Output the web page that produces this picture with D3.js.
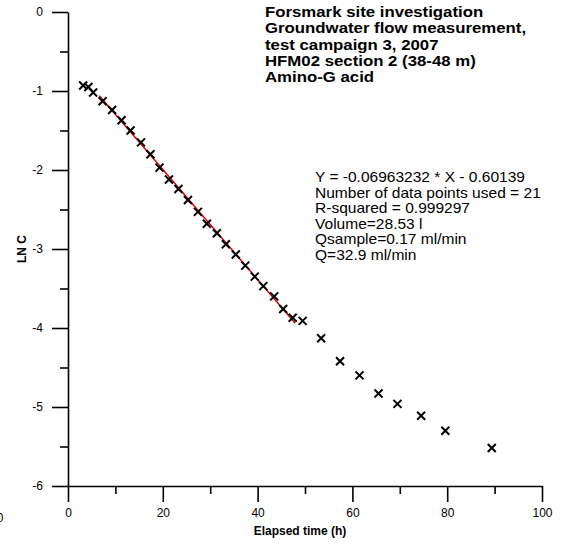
<!DOCTYPE html>
<html>
<head>
<meta charset="utf-8">
<script src="https://cdn.jsdelivr.net/npm/d3@7"></script>
<style>
  html, body { margin: 0; padding: 0; background: #fff; }
  svg { display: block; font-family: "Liberation Sans", Arial, sans-serif; }
</style>
</head>
<body>
<div id="chart"></div>
<script>
// Tracer dilution measurement: ln concentration versus elapsed time
const timeH = [3.2, 4.3, 5.3, 7.3, 9.3, 11.3, 13.2, 15.4, 17.4, 19.3, 21.3, 23.3, 25.3, 27.4,
  29.3, 31.4, 33.3, 35.4, 37.4, 39.4, 41.2, 43.5, 45.4, 47.4, 49.5, 53.4, 57.4, 61.5, 65.5,
  69.5, 74.5, 79.6, 89.4];
const lnC = [-0.93, -0.95, -1.02, -1.13, -1.24, -1.37, -1.50, -1.65, -1.80, -1.97, -2.12,
  -2.24, -2.38, -2.53, -2.68, -2.80, -2.94, -3.07, -3.21, -3.35, -3.47, -3.60, -3.76, -3.87,
  -3.91, -4.13, -4.42, -4.60, -4.83, -4.96, -5.11, -5.30, -5.52];

// Linear regression over the fitted interval
const fitSlope = -0.06963232;
const fitIntercept = -0.60139;
const fitRange = [6.6, 47.9];

const xMajorTicks = [0, 20, 40, 60, 80, 100];
const xMinorTicks = [10, 30, 50, 70, 90];
const yMajorTicks = [0, -1, -2, -3, -4, -5, -6];
const yMinorTicks = [-0.5, -1.5, -2.5, -3.5, -4.5, -5.5];

const titleLines = [
  "Forsmark site investigation",
  "Groundwater flow measurement,",
  "test campaign 3, 2007",
  "HFM02 section 2 (38-48 m)",
  "Amino-G acid"
];
const statLines = [
  "Y = -0.06963232 * X - 0.60139",
  "Number of data points used = 21",
  "R-squared = 0.999297",
  "Volume=28.53 l",
  "Qsample=0.17 ml/min",
  "Q=32.9 ml/min"
];

const W = 561, H = 545;
const svg = d3.select("#chart").append("svg").attr("width", W).attr("height", H);

const x = d3.scaleLinear().domain([0, 100]).range([68, 542]);
const y = d3.scaleLinear().domain([-6, 0]).range([486, 12]);

// Plain hyphen-minus labels
const plainFormat = d => String(d);

function styleAxis(g) {
  g.selectAll("path.domain").attr("stroke", "#000").attr("stroke-width", 1.6);
  g.selectAll(".tick line").attr("stroke", "#000").attr("stroke-width", 1.6);
  g.selectAll(".tick text").attr("font-size", 12).attr("fill", "#000")
    .attr("font-family", "Liberation Sans, Arial, sans-serif");
}

// Y axis
const gy = svg.append("g").attr("transform", `translate(${x(0)},0)`);
gy.call(d3.axisLeft(y).tickValues(yMajorTicks).tickSize(16).tickSizeOuter(0)
  .tickPadding(9).tickFormat(plainFormat));
styleAxis(gy);
const gyMinor = svg.append("g").attr("transform", `translate(${x(0)},0)`);
gyMinor.call(d3.axisLeft(y).tickValues(yMinorTicks).tickSize(8).tickSizeOuter(0).tickFormat(""));
gyMinor.select("path.domain").remove();
styleAxis(gyMinor);

// X axis
const gx = svg.append("g").attr("transform", `translate(0,${y(-6)})`);
gx.call(d3.axisBottom(x).tickValues(xMajorTicks).tickSize(16).tickSizeOuter(0)
  .tickPadding(6).tickFormat(plainFormat));
styleAxis(gx);
const gxMinor = svg.append("g").attr("transform", `translate(0,${y(-6)})`);
gxMinor.call(d3.axisBottom(x).tickValues(xMinorTicks).tickSize(8).tickSizeOuter(0).tickFormat(""));
gxMinor.select("path.domain").remove();
styleAxis(gxMinor);

// Stray label at the lower-left edge
svg.append("text").attr("x", 0).attr("y", 522).attr("text-anchor", "middle")
  .attr("font-size", 12).text("0");

// Axis titles
svg.append("text").attr("x", 300).attr("y", 535).attr("text-anchor", "middle")
  .attr("font-size", 12).attr("font-weight", "bold").text("Elapsed time (h)");
svg.append("text").attr("transform", `translate(26,${y(-3)}) rotate(-90)`)
  .attr("text-anchor", "middle").attr("font-size", 12).attr("font-weight", "bold").text("LN C");

// Regression line
const fitLine = d3.line().x(d => x(d)).y(d => y(fitSlope * d + fitIntercept));
svg.append("path").datum(fitRange).attr("d", fitLine)
  .attr("fill", "none").attr("stroke", "#e00000").attr("stroke-width", 1.5);

// Data markers (x crosses)
const pts = timeH.map((t, i) => [t, lnC[i]]);
svg.append("g").selectAll("path").data(pts).join("path")
  .attr("transform", d => `translate(${x(d[0])},${y(d[1])})`)
  .attr("d", "M-4,-4L4,4M-4,4L4,-4")
  .attr("stroke", "#000").attr("stroke-width", 2).attr("fill", "none");

// Title block (slightly widened lettering)
svg.append("g").selectAll("text").data(titleLines).join("text")
  .attr("transform", (d, i) => `translate(265,${17 + i * 16.3}) scale(1.12,1)`)
  .attr("font-size", 15).attr("font-weight", "bold").text(d => d);

// Regression statistics
svg.append("g").selectAll("text").data(statLines).join("text")
  .attr("transform", (d, i) => `translate(315,${182 + i * 15.6}) scale(1.11,1)`)
  .attr("font-size", 14).text(d => d);
</script>
</body>
</html>
